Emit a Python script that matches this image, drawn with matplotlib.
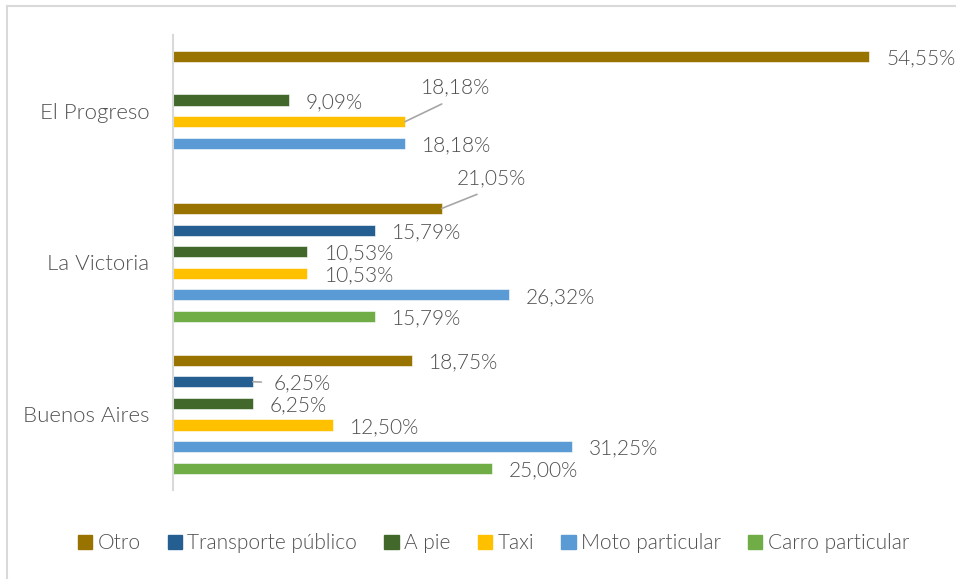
import matplotlib
matplotlib.use("Agg")
import matplotlib.pyplot as plt
import numpy as np
from matplotlib.lines import Line2D

plt.rcParams['font.family'] = ['Lato', 'DejaVu Sans']
plt.rcParams['font.weight'] = 300

categories = ["Buenos Aires", "La Victoria", "El Progreso"]
series = ["Otro", "Transporte público", "A pie", "Taxi", "Moto particular", "Carro particular"]
colors = ["#997300", "#255E91", "#43682B", "#FFC000", "#5B9BD5", "#70AD47"]

# porcentajes por categoria (Buenos Aires, La Victoria, El Progreso); None = sin dato
otro = [18.75, 21.05, 54.55]
transporte = [6.25, 15.79, None]
a_pie = [6.25, 10.53, 9.09]
taxi = [12.50, 10.53, 18.18]
moto = [31.25, 26.32, 18.18]
carro = [25.00, 15.79, None]
values = [otro, transporte, a_pie, taxi, moto, carro]

text_color = "#505050"

fig = plt.figure(figsize=(9.56, 5.79), dpi=100)
ax = fig.add_axes([0.181, 0.1537, 0.801, 0.7859])

slot = 0.1425
bar_h = 0.073
y_base = np.arange(len(categories))

# etiquetas con linea guia: (serie, categoria) -> offset en pixeles
leader = {(3, 2): (50, 34), (0, 1): (50, 30), (1, 0): (21, -2)}

for i, (name, vals, col) in enumerate(zip(series, values, colors)):
    ys = y_base + (2.5 - i) * slot
    for j, v in enumerate(vals):
        if v is None:
            continue
        ax.barh(ys[j], v, height=bar_h, color=col, edgecolor="white", linewidth=0.4)
        label = f"{v:.2f}%".replace(".", ",")
        if (i, j) in leader:
            dx, dy = leader[(i, j)]
            if dx < 30:
                ax.annotate(label, (v, ys[j]), xytext=(dx, dy), textcoords="offset pixels",
                            ha="left", va="center", fontsize=15, color=text_color,
                            arrowprops=dict(arrowstyle="-", color="#a6a6a6", lw=1.2,
                                            relpos=(0, 0.56), shrinkA=7, shrinkB=0))
            else:
                ax.annotate(label, (v, ys[j]), xytext=(dx, dy), textcoords="offset pixels",
                            ha="center", va="center", fontsize=15, color=text_color,
                            arrowprops=dict(arrowstyle="-", color="#a6a6a6", lw=1.2,
                                            relpos=(0.5, 0), shrinkA=6, shrinkB=0))
        else:
            ax.annotate(label, (v, ys[j]), xytext=(17, -2), textcoords="offset pixels",
                        ha="left", va="center", fontsize=15, color=text_color)

ax.set_xlim(0, 60)
ax.set_ylim(-0.5, 2.5)
ax.set_yticks(y_base)
ax.set_yticklabels(categories, fontsize=16, color=text_color)
ax.tick_params(axis="y", length=0, pad=17)
ax.set_xticks([])
for s in ["top", "right", "bottom"]:
    ax.spines[s].set_visible(False)
ax.spines["left"].set_color("#d9d9d9")
ax.spines["left"].set_linewidth(1.5)

handles = [plt.Rectangle((0, 0), 1, 1, color=c) for c in colors]
fig.legend(handles, series, loc="center", bbox_to_anchor=(0.516, 0.062), ncol=6,
           frameon=False, fontsize=15, handlelength=0.7, handleheight=0.7,
           handletextpad=0.25, columnspacing=1.3, labelcolor=text_color)

# borde del grafico (solo visible arriba e izquierda)
fig.add_artist(Line2D([0.0073, 1.0], [0.99, 0.99], color="#d9d9d9", lw=1.5))
fig.add_artist(Line2D([0.0073, 0.0073], [0.0, 0.99], color="#d9d9d9", lw=1.5))

fig.savefig("out.png", dpi=100)
